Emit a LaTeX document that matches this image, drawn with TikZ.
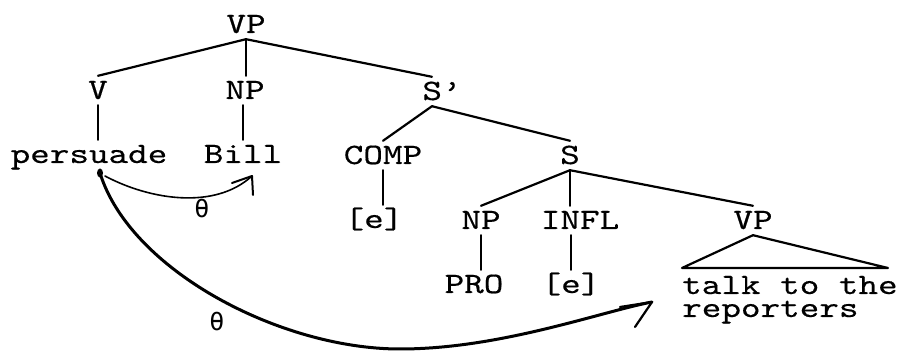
\documentclass[tikz,border=0pt]{standalone}
\usepackage{fontspec}
\usetikzlibrary{calc}
% typewriter face, widened to a pica pitch
\newfontfamily\tw{lmmono10-regular}[Extension=.otf,FakeStretch=1.265,FakeBold=0.4]
\newfontfamily\gr{DejaVu Sans Mono}
\begin{document}
\begin{tikzpicture}[x=1pt,y=-1pt,
  lbl/.style={font=\tw\fontsize{29.5pt}{23pt}\selectfont, inner xsep=0pt,
              inner ysep=6pt, text height=17pt, text depth=0pt, anchor=base},
  phrase/.style={lbl, inner ysep=0pt, text height=16pt, anchor=base west},
  br/.style={line width=2.2pt, line cap=round, line join=round},
  thin arc/.style={line width=1.6pt, line cap=round, line join=round},
  thick arc/.style={line width=3pt, line cap=round, line join=round},
  theta/.style={font=\gr\fontsize{25pt}{25pt}\selectfont, inner sep=0pt}]
\useasboundingbox (0,0) rectangle (897,352);

% ---- labels ----
\node[lbl] (vp)   at (246,33)  {VP};
\node[lbl] (v)    at (98,99)   {V};
\node[lbl] (np)   at (245,99)  {NP};
\node[lbl] (sb)   at (442,100) {S’};
\node[lbl] (persuade) at (89,163) {persuade};
\node[lbl] (bill) at (243,163) {Bill};
\node[lbl] (comp) at (383,164) {COMP};
\node[lbl] (s)    at (570,164) {S};
\node[lbl] (e1)   at (374,228) {[e]};
\node[lbl] (np2)  at (481,229) {NP};
\node[lbl] (infl) at (580,229) {INFL};
\node[lbl] (vp2)  at (753,229) {VP};
\node[lbl] (pro)  at (474,293) {PRO};
\node[lbl] (e2)   at (571,293) {[e]};
\node[phrase] (talk) at (682,294) {talk to the};
\node[phrase] (rep)  at (682,317) {reporters};

% ---- branches ----
\draw[br] (vp.south) -- (v.north);
\draw[br] (vp.south) -- (vp.south |- np.north);
\draw[br] (vp.south) -- ([xshift=-10pt]sb.north);
\draw[br] (v.south) -- (v.south |- persuade.north);
\draw[br] (bill.north |- np.south) -- (bill.north);
\draw[br] ([xshift=-10pt]sb.south) -- (comp.north);
\draw[br] ([xshift=-10pt]sb.south) -- (s.north);
\draw[br] (comp.south) -- (comp.south |- e1.north);
\draw[br] (s.south) -- (np2.north);
\draw[br] (s.south) -- (s.south |- infl.north);
\draw[br] (s.south) -- (vp2.north);
\draw[br] (np2.south) -- (np2.south |- pro.north);
\draw[br] (e2.north |- infl.south) -- (e2.north);

% VP triangle over the unanalysed phrase
\coordinate (tl) at (682,268);
\coordinate (tr) at (888,268);
\draw[br] (vp2.south) -- (tl) -- (tr) -- cycle;

% ---- theta-role assignment ----
\coordinate (o)  at (100,173);
\coordinate (o1) at (105,176);
\coordinate (t1) at (252,176);
\coordinate (t2) at (652,302);
\fill (o) ellipse (3pt and 4.5pt);

\draw[thin arc] (o1) .. controls (150,200) and (215,210) .. (t1);
\draw[thin arc, line width=2pt] (t1) ++(-20,7) -- (t1) -- ++(1,19);
\node[theta] (th1) at (202,209) {θ};

\draw[thick arc] (o) .. controls (130,270) and (280,349) .. (400,349)
                    .. controls (500,349) and (600,312) .. (t2);
\draw[thick arc, line width=2.2pt] (t2) ++(-32,5) -- (t2) -- ++(-17,25);
\node[theta] (th2) at (217,322) {θ};
\end{tikzpicture}
\end{document}
